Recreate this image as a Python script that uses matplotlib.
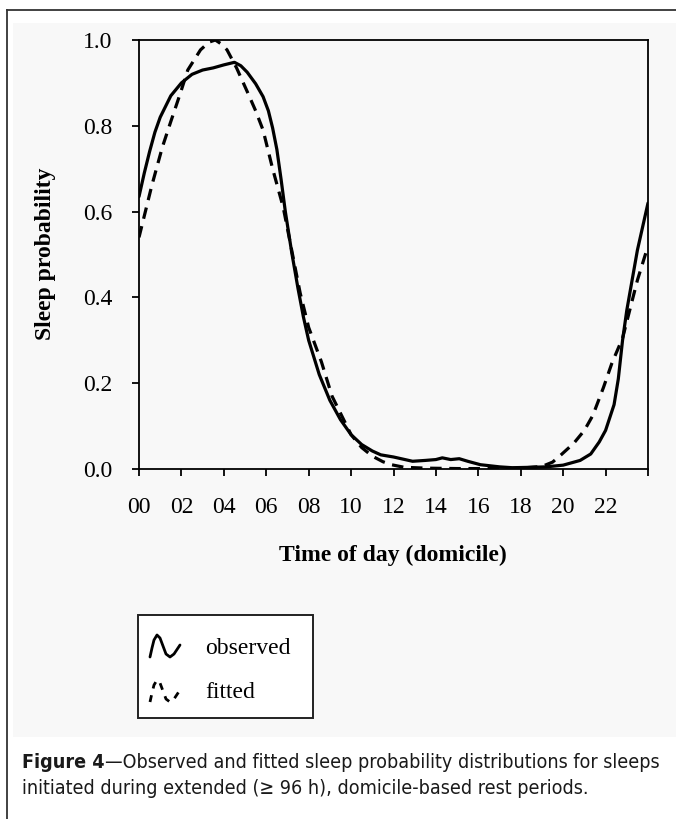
import matplotlib
matplotlib.use('Agg')
import matplotlib.pyplot as plt
from matplotlib.patches import Rectangle
from matplotlib.lines import Line2D

# ---------------- data ----------------
obs_hours = [0, 0.25, 0.5, 0.75, 1, 1.5, 2, 2.5, 3, 3.5, 4, 4.5, 4.8, 5.1, 5.5, 5.85,
             6.1, 6.3, 6.5, 6.7, 6.9, 7.2, 7.5, 7.75, 8, 8.5, 9, 9.5, 10, 10.5, 11, 11.4, 12,
             12.9, 13.5, 14, 14.3, 14.7, 15.1, 15.5, 16.1, 17, 17.6, 18.5, 19.2, 20,
             20.8, 21.3, 21.7, 22, 22.4, 22.6, 22.8, 23, 23.5, 24]
obs_prob = [0.635, 0.69, 0.74, 0.785, 0.82, 0.87, 0.90, 0.92, 0.93, 0.935, 0.942, 0.948,
            0.94, 0.925, 0.898, 0.868, 0.835, 0.795, 0.745, 0.675, 0.60, 0.505, 0.42,
            0.355, 0.30, 0.22,
            0.16, 0.115, 0.08, 0.057, 0.042, 0.033, 0.028, 0.018, 0.02, 0.022, 0.026,
            0.022, 0.024, 0.018, 0.01, 0.005, 0.003, 0.004, 0.005, 0.009, 0.02, 0.035,
            0.063, 0.09, 0.15, 0.21, 0.30, 0.37, 0.51, 0.62]

fit_hours = [0, 0.3, 0.6, 1.1, 1.5, 1.95, 2.3, 2.9, 3.3, 3.6, 3.9, 4.15, 4.6, 5.1, 5.5,
             5.85, 6.3, 6.8, 7.2, 7.6, 8, 8.6, 9.1, 9.6, 10, 10.5, 11, 11.5, 11.9, 12.5,
             13.5, 15, 16.5, 18, 19, 19.5, 19.9, 20.5, 21, 21.4, 21.9, 22.3, 22.8, 23.5, 24]
fit_prob = [0.54, 0.60, 0.66, 0.75, 0.81, 0.876, 0.93, 0.977, 0.995, 1.0, 0.99, 0.977,
            0.935, 0.88, 0.835, 0.79, 0.70, 0.61, 0.51, 0.41, 0.33, 0.25, 0.17, 0.12,
            0.08, 0.05, 0.03, 0.017, 0.01, 0.004, 0.002, 0.001, 0.001, 0.002, 0.006,
            0.016, 0.033, 0.06, 0.09, 0.125, 0.19, 0.247, 0.305, 0.44, 0.52]

xtick_hours = [0, 2, 4, 6, 8, 10, 12, 14, 16, 18, 20, 22, 24]
xtick_labels = ['00', '02', '04', '06', '08', '10', '12', '14', '16', '18', '20', '22', '']
ytick_vals = [0.0, 0.2, 0.4, 0.6, 0.8, 1.0]
ytick_labels = ['0.0', '0.2', '0.4', '0.6', '0.8', '1.0']

x_label = 'Time of day (domicile)'
y_label = 'Sleep probability'
legend_labels = ['observed', 'fitted']
caption_bold = 'Figure 4'
caption_line1 = '\u2014Observed and fitted sleep probability distributions for sleeps'
caption_line2 = 'initiated during extended (\u2265 96 h), domicile-based rest periods.'

# ---------------- layout ----------------
W, H = 676, 819
fig = plt.figure(figsize=(W / 100, H / 100), dpi=100)
fig.patch.set_facecolor('white')


def fx(px):
    return px / W


def fy(py):
    return 1 - py / H


serif = ['Liberation Serif', 'DejaVu Serif']
narrow = ['DejaVu Sans']
fs = 17

# light gray panel
fig.add_artist(Rectangle((fx(13), fy(737)), 1 - fx(13), fy(23) - fy(737),
                         transform=fig.transFigure, facecolor='#f8f8f8',
                         edgecolor='none', zorder=0))
# outer frame (top and left lines)
fig.add_artist(Line2D([fx(7), 1.0], [fy(10), fy(10)], transform=fig.transFigure,
                      color='#333333', lw=1.3))
fig.add_artist(Line2D([fx(7), fx(7)], [fy(10), 0.0], transform=fig.transFigure,
                      color='#333333', lw=1.3))

ax = fig.add_axes([fx(139), fy(469), fx(648) - fx(139), fy(40) - fy(469)])
ax.set_facecolor('none')
ax.plot(obs_hours, obs_prob, color='black', lw=2.3, solid_joinstyle='round',
        solid_capstyle='round', zorder=3)
ax.plot(fit_hours, fit_prob, color='black', lw=2.3, linestyle=(0, (3.6, 2.4)),
        dash_capstyle='butt', zorder=3)
ax.set_xlim(0, 24)
ax.set_ylim(0, 1.0)
ax.set_xticks(xtick_hours)
ax.set_xticklabels(xtick_labels, fontfamily=serif, fontsize=fs)
ax.set_yticks(ytick_vals)
ax.set_yticklabels(ytick_labels, fontfamily=serif, fontsize=fs)
ax.tick_params(axis='both', direction='out', length=5, width=1.3, color='black')
ax.tick_params(axis='y', pad=14)
ax.tick_params(axis='x', pad=15)
for sp in ax.spines.values():
    sp.set_linewidth(1.3)
    sp.set_color('black')

fig.text(fx(393), fy(555), x_label, ha='center', va='center', fontfamily=serif,
         fontsize=fs, fontweight='bold')
fig.text(fx(45), fy(254), y_label, ha='center', va='center', rotation=90,
         fontfamily=serif, fontsize=fs, fontweight='bold')

# legend box
fig.add_artist(Rectangle((fx(138), fy(718)), fx(313) - fx(138), fy(615) - fy(718),
                         transform=fig.transFigure, facecolor='white',
                         edgecolor='#222222', lw=1.4, zorder=2))
gx = [150, 152, 154, 157, 160, 163, 166, 170, 174, 178, 180]
gy = [657, 648, 640, 635, 638, 646, 654, 657, 654, 648, 645]
fig.add_artist(Line2D([fx(v) for v in gx], [fy(v) for v in gy], transform=fig.transFigure,
                      color='black', lw=2.0, solid_capstyle='round', zorder=3))
fig.add_artist(Line2D([fx(v) for v in gx], [fy(v + 45) for v in gy],
                      transform=fig.transFigure, color='black', lw=2.0,
                      linestyle=(0, (2.5, 2.5)), zorder=3))
fig.text(fx(205), fy(648), legend_labels[0], ha='left', va='center',
         fontfamily=serif, fontsize=fs, zorder=4)
fig.text(fx(205), fy(693), legend_labels[1], ha='left', va='center',
         fontfamily=serif, fontsize=fs, zorder=4)

# caption
renderer = fig.canvas.get_renderer()
cap_kw = dict(fontfamily=narrow, fontstretch='condensed')
probe_b = fig.text(0, 0, caption_bold, fontsize=10, fontweight='bold', **cap_kw)
probe_r = fig.text(0, 0, caption_line1, fontsize=10, **cap_kw)
wb = probe_b.get_window_extent(renderer).width
wr = probe_r.get_window_extent(renderer).width
probe_b.remove()
probe_r.remove()
cfs = 10 * 636 / (wb + wr)
cx0 = 22
tb = fig.text(fx(cx0), fy(763), caption_bold, ha='left', va='center',
              fontsize=cfs, fontweight='bold', color='#1a1a1a', **cap_kw)
wbb = tb.get_window_extent(renderer).width
fig.text(fx(cx0 + wbb), fy(763), caption_line1, ha='left', va='center',
         fontsize=cfs, color='#1a1a1a', **cap_kw)
fig.text(fx(cx0), fy(789), caption_line2, ha='left', va='center',
         fontsize=cfs, color='#1a1a1a', **cap_kw)

fig.savefig('out.png', dpi=100, facecolor='white')
